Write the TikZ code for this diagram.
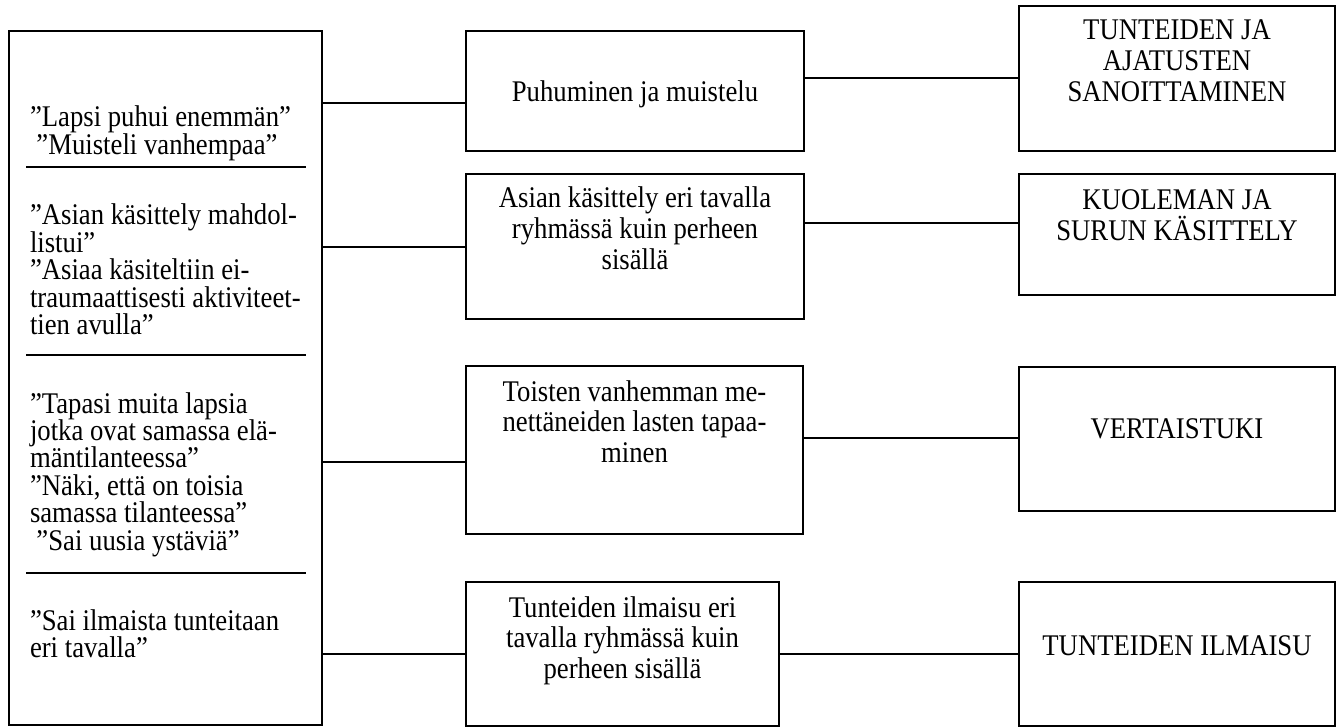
\documentclass[tikz,border=0pt]{standalone}
\usepackage{fontspec}
\setmainfont[FakeStretch=0.89]{Liberation Serif}
\begin{document}
\begin{tikzpicture}[x=1pt,y=-1pt,
  box/.style={draw=black, line width=2pt, inner sep=0pt, outer sep=0pt},
  link/.style={draw=black, line width=2pt},
  sepline/.style={draw=black, line width=2pt},
  ctxt/.style={inner sep=0pt, outer sep=0pt, anchor=north, align=center, font=\fontsize{30}{30.8}\selectfont},
  ltxt/.style={inner sep=0pt, outer sep=0pt, anchor=north west, align=left, font=\fontsize{30}{27.4}\selectfont}]
\useasboundingbox (0,0) rectangle (1336,727);
\newcommand{\fl}{\rule{0pt}{27pt}}
% boxes
\node[box, minimum width=313pt, minimum height=694pt] (L) at (165.5,378) {};
\node[box, minimum width=338pt, minimum height=120pt] (M1) at (635,91) {};
\node[box, minimum width=338pt, minimum height=145pt] (M2) at (635,246.5) {};
\node[box, minimum width=337pt, minimum height=168pt] (M3) at (634.5,450) {};
\node[box, minimum width=313pt, minimum height=144pt] (M4) at (622.5,654) {};
\node[box, minimum width=316pt, minimum height=145pt] (R1) at (1177,78.5) {};
\node[box, minimum width=316pt, minimum height=121pt] (R2) at (1177,234.5) {};
\node[box, minimum width=316pt, minimum height=144pt] (R3) at (1177,439) {};
\node[box, minimum width=316pt, minimum height=144pt] (R4) at (1177,654) {};
% separators in left box
\draw[sepline] (26,167) -- (306,167);
\draw[sepline] (26,355) -- (306,355);
\draw[sepline] (26,573) -- (306,573);
% left texts
\node[ltxt] (g1) at (30,100) {\fl”Lapsi puhui enemmän”\\\hspace*{6.5pt}”Muisteli vanhempaa”};
\node[ltxt] (g2) at (30,198) {\fl”Asian käsittely mahdol-\\listui”\\”Asiaa käsiteltiin ei-\\traumaattisesti aktiviteet-\\tien avulla”};
\node[ltxt] (g3) at (30,386) {\fl”Tapasi muita lapsia\\jotka ovat samassa elä-\\mäntilanteessa”\\”Näki, että on toisia\\samassa tilanteessa”\\\hspace*{6.5pt}”Sai uusia ystäviä”};
\node[ltxt] (g4) at (30,603) {\fl”Sai ilmaista tunteitaan\\eri tavalla”};
% middle texts
\node[ctxt] (t1) at (635,75) {\fl Puhuminen ja muistelu};
\node[ctxt] (t2) at (635,181) {\fl Asian käsittely eri tavalla\\ryhmässä kuin perheen\\sisällä};
\node[ctxt] (t3) at (634.5,374) {\fl Toisten vanhemman me-\\nettäneiden lasten tapaa-\\minen};
\node[ctxt] (t4) at (622.5,590) {\fl Tunteiden ilmaisu eri\\tavalla ryhmässä kuin\\perheen sisällä};
% right texts
\node[ctxt] (r1) at (1177,13) {\fl TUNTEIDEN JA\\AJATUSTEN\\SANOITTAMINEN};
\node[ctxt] (r2) at (1177,183) {\fl KUOLEMAN JA\\SURUN KÄSITTELY};
\node[ctxt] (r3) at (1177,411) {\fl VERTAISTUKI};
\node[ctxt] (r4) at (1177,628) {\fl TUNTEIDEN ILMAISU};
% connectors left -> middle
\draw[link] ([yshift=-12pt]M1.west) -- ([yshift=-12pt]M1.west -| L.east);
\draw[link] ([yshift=-0.5pt]M2.west) -- ([yshift=-0.5pt]M2.west -| L.east);
\draw[link] ([yshift=-12pt]M3.west) -- ([yshift=-12pt]M3.west -| L.east);
\draw[link] (M4.west) -- (M4.west -| L.east);
% connectors middle -> right
\draw[link] ([yshift=0.5pt]R1.west) -- ([yshift=0.5pt]R1.west -| M1.east);
\draw[link] ([yshift=11.5pt]R2.west) -- ([yshift=11.5pt]R2.west -| M2.east);
\draw[link] ([yshift=1pt]R3.west) -- ([yshift=1pt]R3.west -| M3.east);
\draw[link] (R4.west) -- (R4.west -| M4.east);
\end{tikzpicture}
\end{document}
